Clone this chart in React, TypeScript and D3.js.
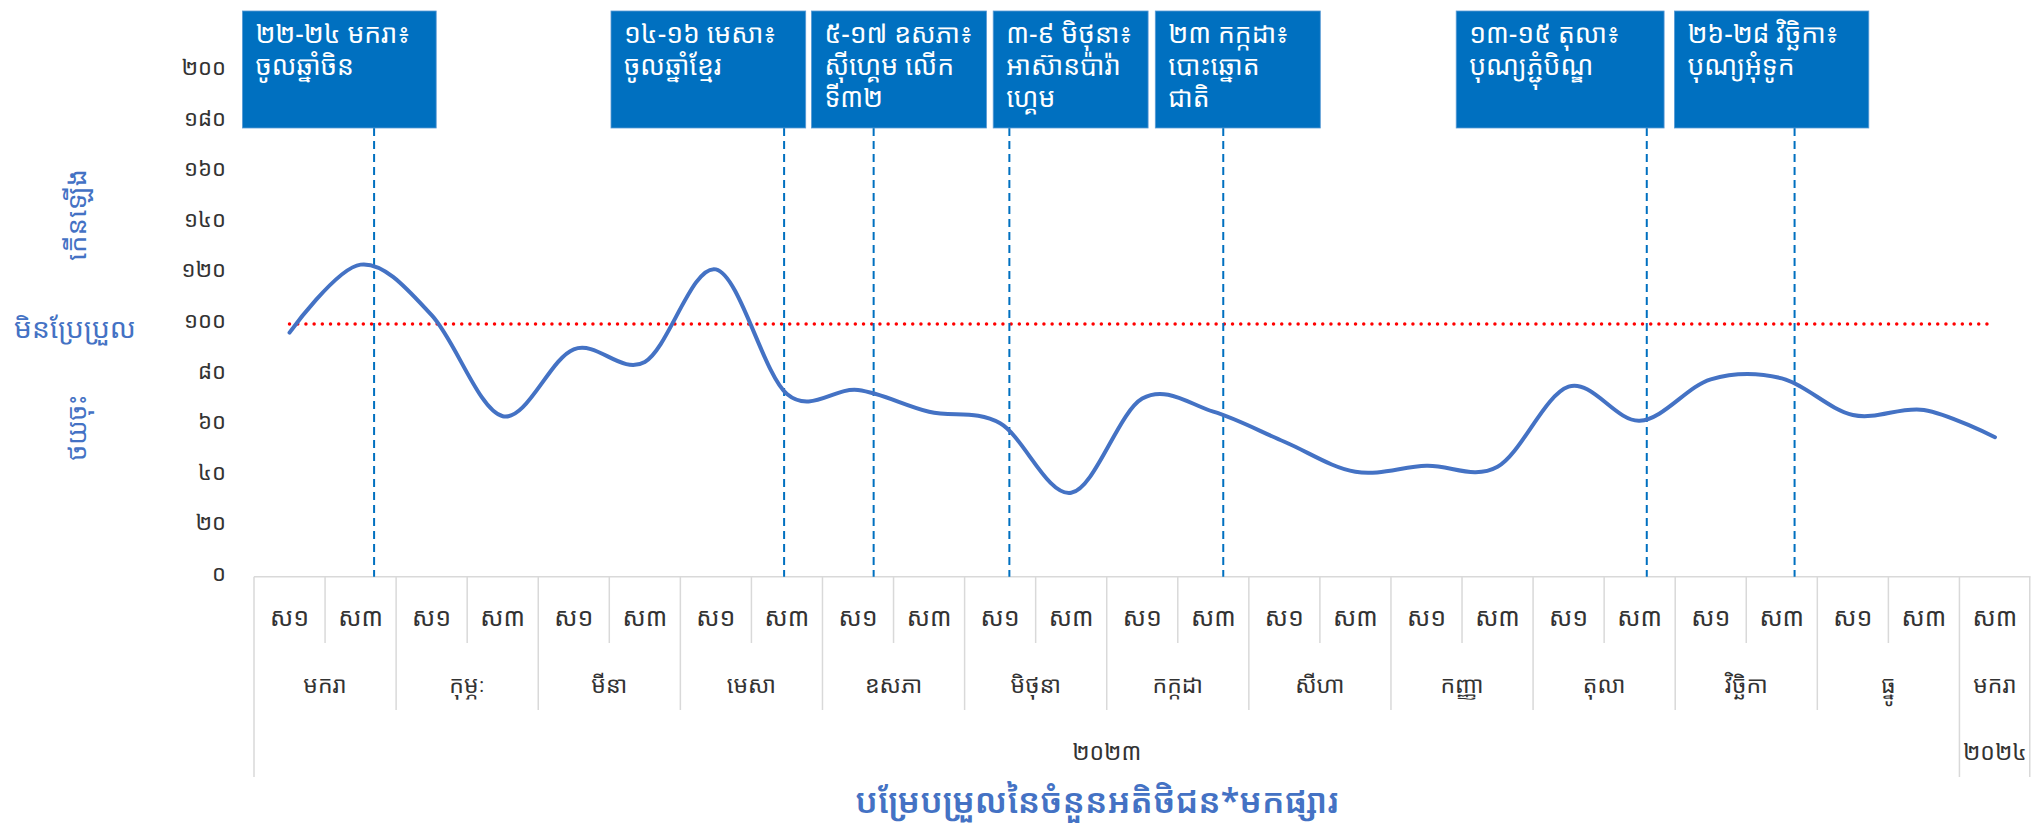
import React from "react";
import * as d3 from "d3";

// ---------- data ----------
const weekLabels = [
  "ស១", "ស៣", "ស១", "ស៣", "ស១", "ស៣", "ស១", "ស៣", "ស១", "ស៣", "ស១", "ស៣",
  "ស១", "ស៣", "ស១", "ស៣", "ស១", "ស៣", "ស១", "ស៣", "ស១", "ស៣", "ស១", "ស៣", "ស៣",
];
const monthLabels = [
  "មករា", "កុម្ភៈ", "មីនា", "មេសា", "ឧសភា", "មិថុនា", "កក្កដា", "សីហា", "កញ្ញា", "តុលា", "វិច្ឆិកា", "ធ្នូ", "មករា",
];
const monthOfCategory = [0, 0, 1, 1, 2, 2, 3, 3, 4, 4, 5, 5, 6, 6, 7, 7, 8, 8, 9, 9, 10, 10, 11, 11, 12];
const yearLabels = ["២០២៣", "២០២៤"];
const yearOfMonth = [0, 0, 0, 0, 0, 0, 0, 0, 0, 0, 0, 0, 1];

const visitorIndex = [
  96.6, 123.5, 103.5, 63.5, 90, 85, 121.6, 72.3, 73.9, 65.3, 60.7, 33.2,
  70.5, 65.3, 53.4, 41.5, 43.9, 43.5, 75.2, 61.7, 78.1, 78.5, 64, 66, 55.2,
];
const baselineValue = 100;
const yTicks = [0, 20, 40, 60, 80, 100, 120, 140, 160, 180, 200];

const eventTexts = [
  ["២២-២៤ មករា៖", "ចូលឆ្នាំចិន"],
  ["១៤-១៦ មេសា៖", "ចូលឆ្នាំខ្មែរ"],
  ["៥-១៧ ឧសភា៖", "ស៊ីហ្គេម លើក", "ទី៣២"],
  ["៣-៩ មិថុនា៖", "អាស៊ានប៉ារ៉ា", "ហ្គេម"],
  ["២៣ កក្កដា៖", "បោះឆ្នោត", "ជាតិ"],
  ["១៣-១៥ តុលា៖", "បុណ្យភ្ជុំបិណ្ឌ"],
  ["២៦-២៨ វិច្ឆិកា៖", "បុណ្យអុំទូក"],
];
// event dates expressed in category (half-month) units along the axis
const eventPositions = [1.69, 7.46, 8.72, 10.63, 13.64, 19.6, 21.68];

const yTitleUp = "កើនឡើង";
const yTitleMid = "មិនប្រែប្រួល";
const yTitleDown = "ថយចុះ";
const chartTitle = "បម្រែបម្រួលនៃចំនួនអតិថិជន*មកផ្សារ";

// ---------- layout ----------
const W = 2031;
const H = 838;
const plotLeft = 254;
const plotRight = 2030.5;
const zeroY = 576.7;
const y200 = 71.3;
const weekRowBottom = 643;
const monthRowBottom = 710;
const yearRowBottom = 777;
const boxLayout = [
  [242.4, 436.2],
  [611, 805.7],
  [811.4, 986.5],
  [993.2, 1148.1],
  [1155.3, 1320.3],
  [1456.2, 1664.1],
  [1674.4, 1868.8],
];
const boxTop = 11;
const boxBottom = 128;

const FONT = "'Noto Sans Khmer', 'Noto Serif Khmer', 'Khmer OS', 'Khmer OS System', 'Noto Sans', 'DejaVu Sans', sans-serif";
const BLUE = "#4472C4";
const BOX = "#0070C0";
const GRID = "#d9d9d9";
const TEXT = "#333333";

const khmerDigits = "០១២៣៤៥៦៧៨៩";
const toKhmer = (n: number) => String(n).replace(/[0-9]/g, (d) => khmerDigits[+d]);

export default function App() {
  const n = visitorIndex.length;
  const x = d3.scaleBand<number>().domain(d3.range(n)).range([plotLeft, plotRight]).paddingInner(0).paddingOuter(0);
  const bw = x.bandwidth();
  const xPos = d3.scaleLinear().domain([0, n]).range([plotLeft, plotRight]);
  const y = d3.scaleLinear().domain([0, 200]).range([zeroY, y200]);
  const cx = (i: number) => (x(i) as number) + bw / 2;

  const line = d3
    .line<number>()
    .x((_, i) => cx(i))
    .y((d) => y(d))
    .curve(d3.curveCardinal.tension(0));

  const basePath = d3.line<number>().x((_, i) => cx(i)).y(() => y(baselineValue))(visitorIndex) || "";

  const months = d3.range(monthLabels.length).map((m) => {
    const idx = monthOfCategory.map((v, i) => (v === m ? i : -1)).filter((i) => i >= 0);
    return { m, start: d3.min(idx) as number, end: (d3.max(idx) as number) + 1 };
  });
  const years = d3.range(yearLabels.length).map((yy) => {
    const ms = months.filter((mm) => yearOfMonth[mm.m] === yy);
    return { yy, start: d3.min(ms, (d) => d.start) as number, end: d3.max(ms, (d) => d.end) as number };
  });

  const monthBoundaries = new Set<number>();
  months.forEach((mm) => {
    monthBoundaries.add(mm.start);
    monthBoundaries.add(mm.end);
  });
  const yearBoundaries = new Set<number>();
  years.forEach((yy) => {
    yearBoundaries.add(yy.start);
    yearBoundaries.add(yy.end);
  });

  return (
    <svg
      width={W}
      height={H}
      viewBox={`0 0 ${W} ${H}`}
      style={{ position: "absolute", left: 0, top: 0, background: "#fff" }}
      fontFamily={FONT}
    >
      <rect x={0} y={0} width={W} height={H} fill="#fff" />

      {/* y tick labels */}
      {yTicks.map((t) => (
        <text key={t} x={226} y={y(t) + 4} textAnchor="end" fontSize={22} fill={TEXT}>
          {toKhmer(t)}
        </text>
      ))}

      {/* y titles */}
      <text
        x={86}
        y={215}
        transform="rotate(-90 86 215)"
        textAnchor="middle"
        fontSize={27}
        fill={BLUE}
        textLength={92}
        lengthAdjust="spacingAndGlyphs"
      >
        {yTitleUp}
      </text>
      <text x={75} y={338} textAnchor="middle" fontSize={27} fill={BLUE} textLength={122} lengthAdjust="spacingAndGlyphs">
        {yTitleMid}
      </text>
      <text
        x={86}
        y={428}
        transform="rotate(-90 86 428)"
        textAnchor="middle"
        fontSize={27}
        fill={BLUE}
        textLength={66}
        lengthAdjust="spacingAndGlyphs"
      >
        {yTitleDown}
      </text>

      {/* category table */}
      <line x1={plotLeft} x2={plotRight} y1={zeroY} y2={zeroY} stroke={GRID} strokeWidth={1.5} />
      {d3.range(n + 1).map((b) => {
        const bottom = yearBoundaries.has(b) ? yearRowBottom : monthBoundaries.has(b) ? monthRowBottom : weekRowBottom;
        const xx = b === n ? plotRight - 0.75 : xPos(b);
        return <line key={"sep" + b} x1={xx} x2={xx} y1={zeroY} y2={bottom} stroke={GRID} strokeWidth={1.5} />;
      })}
      {weekLabels.map((w, i) => (
        <text key={"w" + i} x={cx(i)} y={626} textAnchor="middle" fontSize={25} fill={TEXT}>
          {w}
        </text>
      ))}
      {months.map((mm) => (
        <text key={"m" + mm.m} x={(xPos(mm.start) + xPos(mm.end)) / 2} y={693} textAnchor="middle" fontSize={23} fill={TEXT}>
          {monthLabels[mm.m]}
        </text>
      ))}
      {years.map((yy) => (
        <text key={"y" + yy.yy} x={(xPos(yy.start) + xPos(yy.end)) / 2} y={760} textAnchor="middle" fontSize={23} fill={TEXT}>
          {yearLabels[yy.yy]}
        </text>
      ))}

      {/* baseline 100 */}
      <path d={basePath} fill="none" stroke="#FF0000" strokeWidth={3.5} strokeLinecap="round" strokeDasharray="0 8.2" />

      {/* event dashed lines */}
      {eventPositions.map((p, i) => (
        <line
          key={"ev" + i}
          x1={xPos(p)}
          x2={xPos(p)}
          y1={boxBottom}
          y2={zeroY}
          stroke={BOX}
          strokeWidth={2}
          strokeDasharray="8 5"
        />
      ))}

      {/* series line */}
      <path d={line(visitorIndex) || ""} fill="none" stroke={BLUE} strokeWidth={4} strokeLinecap="round" />

      {/* event boxes */}
      {eventTexts.map((lines, i) => {
        const [l, r] = boxLayout[i];
        return (
          <g key={"box" + i}>
            <rect x={l} y={boxTop} width={r - l} height={boxBottom - boxTop} fill={BOX} stroke="#5b9bd5" strokeWidth={0.8} />
            {lines.map((t, j) => (
              <text key={j} x={l + 13} y={43 + j * 32} fontSize={26.5} fill="#fff">
                {t}
              </text>
            ))}
          </g>
        );
      })}

      {/* chart title */}
      <text x={1097} y={813} textAnchor="middle" fontSize={34} fill={BLUE} fontWeight={600}>
        {chartTitle}
      </text>
    </svg>
  );
}
